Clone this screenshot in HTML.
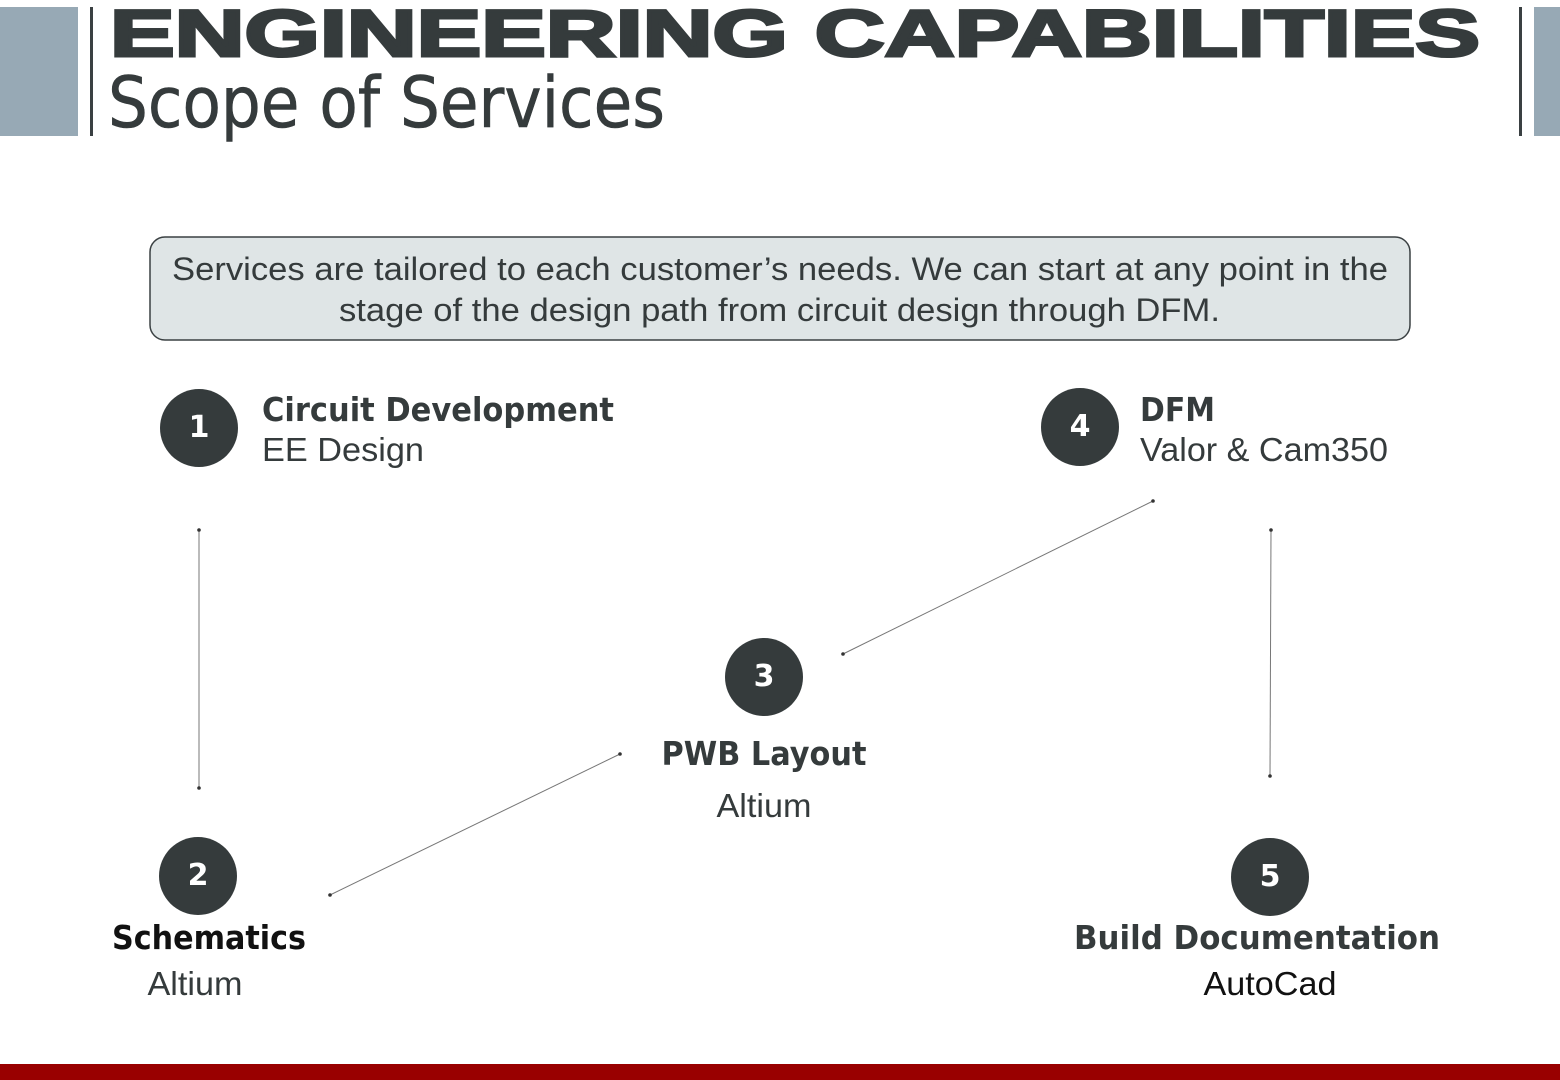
<!DOCTYPE html>
<html><head><meta charset="utf-8"><style>
html,body{margin:0;padding:0;background:#fff;width:1560px;height:1080px;overflow:hidden}
</style></head><body>
<svg width="1560" height="1080" viewBox="0 0 1560 1080" xmlns="http://www.w3.org/2000/svg">
<rect x="0" y="7" width="78" height="129" fill="#97a9b5"/>
<rect x="90" y="7" width="3" height="129" fill="#3a4042"/>
<rect x="1519" y="7" width="3" height="129" fill="#3a4042"/>
<rect x="1534" y="7" width="26" height="129" fill="#97a9b5"/>
<text x="110" y="56" font-family="Liberation Sans, sans-serif" font-weight="bold" font-size="66" fill="#353b3c" stroke="#353b3c" stroke-width="3" textLength="1370" lengthAdjust="spacingAndGlyphs">ENGINEERING CAPABILITIES</text>
<text x="108" y="127" font-family="DejaVu Sans, Liberation Sans, sans-serif" font-size="70" fill="#353b3c" stroke="#353b3c" stroke-width="0.6" textLength="557" lengthAdjust="spacingAndGlyphs">Scope of Services</text>
<rect x="150" y="237" width="1260" height="103" rx="15" fill="#dfe5e6" stroke="#3a4042" stroke-width="1.5"/>
<g font-family="Liberation Sans, sans-serif" font-size="32" fill="#353b3c">
<text x="172" y="280" textLength="1216" lengthAdjust="spacingAndGlyphs">Services are tailored to each customer’s needs. We can start at any point in the</text>
<text x="339" y="321" textLength="881" lengthAdjust="spacingAndGlyphs">stage of the design path from circuit design through DFM.</text>
</g>
<g stroke="#777" stroke-width="1">
<line x1="199" y1="530" x2="199" y2="788"/>
<line x1="330" y1="895" x2="620" y2="754"/>
<line x1="843" y1="654" x2="1153" y2="501"/>
<line x1="1271" y1="530" x2="1270" y2="776"/>
</g>
<g fill="#333">
<circle cx="199" cy="530" r="1.8"/><circle cx="199" cy="788" r="1.8"/>
<circle cx="330" cy="895" r="1.8"/><circle cx="620" cy="754" r="1.8"/>
<circle cx="843" cy="654" r="1.8"/><circle cx="1153" cy="501" r="1.8"/>
<circle cx="1271" cy="530" r="1.8"/><circle cx="1270" cy="776" r="1.8"/>
</g>
<g fill="#353b3c">
<circle cx="199" cy="428" r="39"/><circle cx="198" cy="876" r="39"/>
<circle cx="764" cy="677" r="39"/><circle cx="1080" cy="427" r="39"/>
<circle cx="1270" cy="877" r="39"/>
</g>
<g font-family="DejaVu Sans, sans-serif" font-weight="bold" font-size="30" fill="#fff" text-anchor="middle">
<text x="199" y="437">1</text><text x="198" y="885">2</text><text x="764" y="686">3</text><text x="1080" y="436">4</text><text x="1270" y="886">5</text>
</g>
<g font-family="DejaVu Sans, sans-serif" font-weight="bold" font-size="33" fill="#353b3c">
<text x="262" y="421" textLength="352" lengthAdjust="spacingAndGlyphs">Circuit Development</text>
<text x="1140" y="421" textLength="75" lengthAdjust="spacingAndGlyphs">DFM</text>
<text x="764" y="765" text-anchor="middle" textLength="205" lengthAdjust="spacingAndGlyphs">PWB Layout</text>
<text x="209" y="949" text-anchor="middle" fill="#111" textLength="194" lengthAdjust="spacingAndGlyphs">Schematics</text>
<text x="1257" y="949" text-anchor="middle" textLength="366" lengthAdjust="spacingAndGlyphs">Build Documentation</text>
</g>
<g font-family="Liberation Sans, sans-serif" font-size="33" fill="#353b3c">
<text x="262" y="461" textLength="162" lengthAdjust="spacingAndGlyphs">EE Design</text>
<text x="1140" y="461" textLength="248" lengthAdjust="spacingAndGlyphs">Valor &amp; Cam350</text>
<text x="764" y="817" text-anchor="middle" textLength="95" lengthAdjust="spacingAndGlyphs">Altium</text>
<text x="195" y="995" text-anchor="middle" textLength="95" lengthAdjust="spacingAndGlyphs">Altium</text>
<text x="1270" y="995" text-anchor="middle" fill="#111" textLength="133" lengthAdjust="spacingAndGlyphs">AutoCad</text>
</g>
<rect x="0" y="1064" width="1560" height="16" fill="#990000"/>
</svg>
</body></html>
